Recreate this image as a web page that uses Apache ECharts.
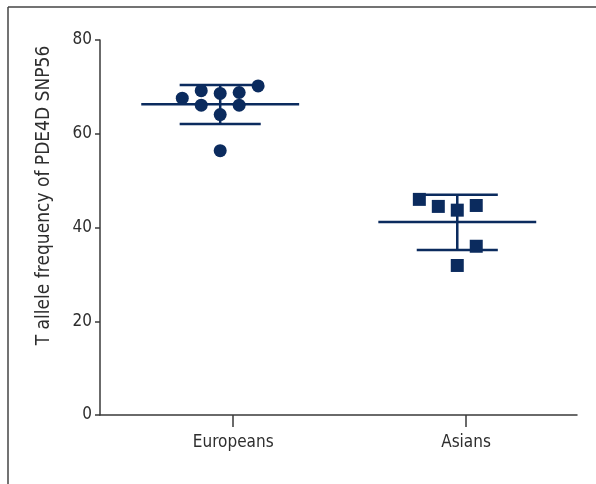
<!DOCTYPE html>
<html>
<head>
<meta charset="utf-8">
<script src="https://cdn.jsdelivr.net/npm/echarts@6/dist/echarts.min.js"></script>
<style>
html,body{margin:0;padding:0;background:#fff;}
#chart{width:596px;height:484px;}
</style>
</head>
<body>
<div id="chart"></div>
<script>
// ---- data ----
const categories = ['Europeans', 'Asians'];
const europeansValues = [70.2, 67.6, 69.2, 68.6, 68.8, 66.1, 66.1, 64.1, 56.4];
const europeansJitter = [0.16, -0.16, -0.08, 0, 0.08, -0.08, 0.08, 0, 0];
const asiansValues = [46.0, 44.5, 43.7, 44.7, 36.0, 31.9];
const asiansJitter = [-0.16, -0.08, 0, 0.08, 0.08, 0];
const groupMeans = [66.3, 41.2];
const groupUpper = [70.4, 47.0];
const groupLower = [62.1, 35.2];
const yTickValues = [0, 20, 40, 60, 80];
const yAxisTitle = 'T allele frequency of PDE4D SNP56';

// ---- layout/style ----
const navy = '#0b2b5e';
const axisColor = '#3a3a3a';
const textColor = '#2e2e2e';
const font = '"Liberation Sans Narrow", "DejaVu Sans Condensed", sans-serif';
const categoryTickPos = [0.055, 1.037];
const meanHalf = 0.333;
const capHalf = 0.171;

const chart = echarts.init(document.getElementById('chart'), null, {renderer: 'canvas'});

const eData = europeansValues.map((v, i) => [0 + europeansJitter[i], v]);
const aData = asiansValues.map((v, i) => [1 + asiansJitter[i], v]);
const barData = categories.map((c, i) => [i, groupMeans[i], groupUpper[i], groupLower[i]]);

const option = {
  backgroundColor: '#ffffff',
  animation: false,
  grid: {left: 100, right: 19, top: 40, bottom: 69, outerBoundsMode: 'none'},
  xAxis: {
    type: 'value',
    min: -0.507,
    max: 1.505,
    splitLine: {show: false},
    axisLine: {show: true, onZero: false, lineStyle: {color: axisColor, width: 1.5}},
    axisTick: {show: true, length: 12, lineStyle: {color: axisColor, width: 1.5}, customValues: categoryTickPos},
    axisLabel: {
      show: true, margin: 19, color: textColor, fontFamily: font, fontSize: 17,
      customValues: categoryTickPos,
      formatter: (v) => categories[Math.round(v)]
    }
  },
  yAxis: {
    type: 'value',
    min: 0, max: 80, interval: 20,
    splitLine: {show: false},
    axisLine: {show: true, onZero: false, lineStyle: {color: axisColor, width: 1.5}},
    axisTick: {show: true, length: 5, lineStyle: {color: axisColor, width: 1.5}},
    axisLabel: {margin: 8, color: textColor, fontFamily: font, fontSize: 17,
      formatter: (v) => yTickValues.includes(v) ? String(v) : ''},
    name: yAxisTitle,
    nameLocation: 'middle',
    nameGap: 46,
    nameTextStyle: {color: textColor, fontFamily: font, fontSize: 19, padding: [0, 0, 0, 64]}
  },
  series: [
    {
      type: 'custom',
      data: barData,
      z: 2,
      renderItem: function (params, api) {
        const i = api.value(0);
        const mean = api.coord([i, api.value(1)]);
        const up = api.coord([i, api.value(2)]);
        const lo = api.coord([i, api.value(3)]);
        const mh = api.size([meanHalf, 0])[0];
        const ch = api.size([capHalf, 0])[0];
        const st = {stroke: navy, lineWidth: 2.5};
        return {
          type: 'group',
          children: [
            {type: 'line', shape: {x1: mean[0] - mh, y1: mean[1], x2: mean[0] + mh, y2: mean[1]}, style: st},
            {type: 'line', shape: {x1: up[0] - ch, y1: up[1], x2: up[0] + ch, y2: up[1]}, style: st},
            {type: 'line', shape: {x1: lo[0] - ch, y1: lo[1], x2: lo[0] + ch, y2: lo[1]}, style: st},
            {type: 'line', shape: {x1: up[0], y1: up[1], x2: lo[0], y2: lo[1]}, style: st}
          ]
        };
      }
    },
    {
      type: 'scatter', name: categories[0], data: eData,
      symbol: 'circle', symbolSize: 13, z: 3,
      itemStyle: {color: navy, opacity: 1}
    },
    {
      type: 'scatter', name: categories[1], data: aData,
      symbol: 'rect', symbolSize: 13, z: 3,
      itemStyle: {color: navy, opacity: 1}
    }
  ],
  graphic: [
    {type: 'line', shape: {x1: 8, y1: 7, x2: 596, y2: 7}, style: {stroke: '#444', lineWidth: 1.5}},
    {type: 'line', shape: {x1: 8, y1: 7, x2: 8, y2: 484}, style: {stroke: '#444', lineWidth: 1.5}}
  ]
};
chart.setOption(option);
</script>
</body>
</html>
